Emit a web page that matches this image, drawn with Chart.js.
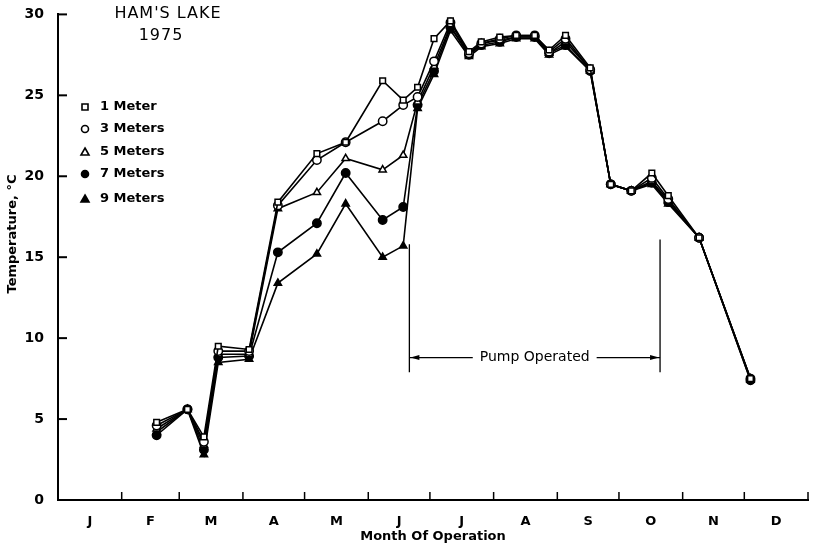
<!DOCTYPE html>
<html>
<head>
<meta charset="utf-8">
<script src="https://cdn.jsdelivr.net/npm/chart.js@4/dist/chart.umd.min.js"></script>
<style>
  html, body { margin: 0; padding: 0; background: #fff; }
</style>
</head>
<body>
<canvas id="myChart" width="814" height="544"></canvas>
<script>
// sampling dates as day of year, 1975
const sampleDays = [48, 63, 71, 78, 93, 107, 126, 140, 158, 168, 175, 183, 191, 200, 206, 215, 223, 232, 239, 247, 259, 269, 279, 289, 297, 312, 337];
const temp1m = [4.8, 5.6, 3.9, 9.5, 9.3, 18.4, 21.4, 22.1, 25.9, 24.7, 25.5, 28.5, 29.6, 27.7, 28.3, 28.6, 28.7, 28.7, 27.8, 28.7, 26.7, 19.5, 19.1, 20.2, 18.8, 16.2, 7.5];
const temp3m = [4.6, 5.6, 3.6, 9.2, 9.2, 18.2, 21.0, 22.1, 23.4, 24.4, 24.9, 27.1, 29.5, 27.6, 28.2, 28.5, 28.7, 28.7, 27.7, 28.5, 26.6, 19.5, 19.1, 19.9, 18.6, 16.2, 7.5];
const temp5m = [4.4, 5.6, 3.4, 9.0, 9.0, 18.0, 19.0, 21.1, 20.4, 21.3, 24.6, 26.8, 29.3, 27.5, 28.2, 28.4, 28.6, 28.6, 27.6, 28.3, 26.6, 19.5, 19.1, 19.7, 18.5, 16.2, 7.5];
const temp7m = [4.0, 5.6, 3.1, 8.8, 8.9, 15.3, 17.1, 20.2, 17.3, 18.1, 24.4, 26.5, 29.2, 27.5, 28.1, 28.3, 28.6, 28.6, 27.6, 28.1, 26.5, 19.5, 19.1, 19.6, 18.4, 16.2, 7.4];
const temp9m = [4.2, 5.6, 2.8, 8.5, 8.7, 13.4, 15.2, 18.3, 15.0, 15.7, 24.2, 26.3, 29.0, 27.4, 28.0, 28.2, 28.5, 28.5, 27.5, 28.0, 26.5, 19.5, 19.1, 19.5, 18.3, 16.2, 7.4];

const months = ['J', 'F', 'M', 'A', 'M', 'J', 'J', 'A', 'S', 'O', 'N', 'D'];
const monthEnds = [31, 59, 90, 120, 151, 181, 212, 243, 273, 304, 334, 365];
const monthMids = [15.5, 45, 74.5, 105, 135.5, 166, 196.5, 227.5, 258, 288.5, 319, 349.5];
const yTicks = [0, 5, 10, 15, 20, 25, 30];

const seriesNames = ['1 Meter', '3 Meters', '5 Meters', '7 Meters', '9 Meters'];
const seriesTemps = [temp1m, temp3m, temp5m, temp7m, temp9m];

// pump period (day of year) and where the bracket sits (deg C)
const pumpStart = 171, pumpEnd = 293;
const pumpTop1 = 15.8, pumpTop2 = 16.1, pumpBottom = 7.9, pumpArrowY = 8.8;

const FONT = '"DejaVu Sans", sans-serif';
const markers = [
  { style: 'rect', fill: '#fff' },
  { style: 'circle', fill: '#fff' },
  { style: 'triangle', fill: '#fff' },
  { style: 'circle', fill: '#000' },
  { style: 'triangle', fill: '#000' }
];

function toPoints(vals) {
  return vals.map((v, i) => ({ x: sampleDays[i], y: v }));
}

const datasets = seriesNames.map((name, i) => ({
  label: name,
  data: toPoints(seriesTemps[i]),
  borderColor: '#000',
  borderWidth: 1.6,
  backgroundColor: markers[i].fill,
  pointStyle: markers[i].style,
  pointRadius: markers[i].style == 'rect' ? 4 : 4.2,
  pointBorderWidth: 1.5,
  pointBorderColor: '#000',
  pointBackgroundColor: markers[i].fill,
  tension: 0,
  fill: false
}));

function drawMarker(ctx, style, fill, x, y) {
  ctx.save();
  ctx.fillStyle = fill;
  ctx.strokeStyle = '#000';
  ctx.lineWidth = 1.6;
  ctx.beginPath();
  if (style == 'rect') {
    ctx.rect(x - 3, y - 3, 6, 6);
  } else if (style == 'circle') {
    ctx.arc(x, y, 3.5, 0, Math.PI * 2);
  } else {
    ctx.moveTo(x, y - 4);
    ctx.lineTo(x + 4, y + 3);
    ctx.lineTo(x - 4, y + 3);
    ctx.closePath();
  }
  ctx.fill();
  ctx.stroke();
  ctx.restore();
}

const extras = {
  id: 'extras',
  afterDraw(chart) {
    const ctx = chart.ctx;
    const xs = chart.scales.x, ys = chart.scales.y;
    const area = chart.chartArea;
    ctx.save();
    ctx.strokeStyle = '#000';
    ctx.fillStyle = '#000';

    // inward tick marks
    ctx.lineWidth = 1.5;
    monthEnds.forEach(d => {
      const px = xs.getPixelForValue(d);
      ctx.beginPath();
      ctx.moveTo(px, area.bottom);
      ctx.lineTo(px, area.bottom - 8);
      ctx.stroke();
    });
    ctx.lineWidth = 2;
    yTicks.forEach(t => {
      const py = ys.getPixelForValue(t);
      ctx.beginPath();
      ctx.moveTo(area.left, py);
      ctx.lineTo(area.left + 9, py);
      ctx.stroke();
    });

    // y axis title
    ctx.save();
    ctx.translate(13, 234);
    ctx.rotate(-Math.PI / 2);
    ctx.font = 'bold 13px ' + FONT;
    ctx.textAlign = 'center';
    ctx.textBaseline = 'middle';
    ctx.fillText('Temperature, \u00b0C', 0, 0);
    ctx.restore();

    // title
    ctx.font = '16px ' + FONT;
    ctx.letterSpacing = '1px';
    ctx.textAlign = 'center';
    ctx.textBaseline = 'middle';
    ctx.fillText("HAM'S LAKE", 168, 14);
    ctx.fillText('1975', 161, 36);
    ctx.letterSpacing = '0px';

    // legend
    ctx.font = 'bold 13px ' + FONT;
    ctx.textAlign = 'left';
    const rowY = [107, 129, 152, 174, 199];
    seriesNames.forEach((name, i) => {
      drawMarker(ctx, markers[i].style, markers[i].fill, 85, rowY[i]);
      ctx.fillStyle = '#000';
      ctx.fillText(name, 100, rowY[i]);
    });

    // pump bracket
    const x1 = xs.getPixelForValue(pumpStart), x2 = xs.getPixelForValue(pumpEnd);
    const yb = ys.getPixelForValue(pumpBottom), ya = ys.getPixelForValue(pumpArrowY);
    ctx.lineWidth = 1.3;
    ctx.beginPath();
    ctx.moveTo(x1, ys.getPixelForValue(pumpTop1));
    ctx.lineTo(x1, yb);
    ctx.moveTo(x2, ys.getPixelForValue(pumpTop2));
    ctx.lineTo(x2, yb);
    ctx.stroke();
    ctx.font = '14px ' + FONT;
    ctx.textAlign = 'center';
    const label = 'Pump Operated';
    const mid = (x1 + x2) / 2;
    const half = ctx.measureText(label).width / 2 + 7;
    ctx.fillText(label, mid, ya);
    ctx.beginPath();
    ctx.moveTo(x1, ya);
    ctx.lineTo(mid - half, ya);
    ctx.moveTo(mid + half, ya);
    ctx.lineTo(x2, ya);
    ctx.stroke();
    // arrow heads
    ctx.beginPath();
    ctx.moveTo(x1 + 1, ya);
    ctx.lineTo(x1 + 10, ya - 2.5);
    ctx.lineTo(x1 + 10, ya + 2.5);
    ctx.closePath();
    ctx.moveTo(x2 - 1, ya);
    ctx.lineTo(x2 - 10, ya - 2.5);
    ctx.lineTo(x2 - 10, ya + 2.5);
    ctx.closePath();
    ctx.fill();
    ctx.restore();
  }
};

new Chart('myChart', {
  type: 'line',
  data: { datasets: datasets },
  options: {
    responsive: false,
    animation: false,
    layout: { padding: { top: 13, right: 6, left: 0, bottom: 0 } },
    plugins: { legend: { display: false }, tooltip: { enabled: false } },
    scales: {
      x: {
        type: 'linear',
        min: 0,
        max: 365,
        afterBuildTicks: axis => { axis.ticks = monthMids.map(v => ({ value: v })); },
        afterFit: axis => { axis.height = 44; },
        grid: { display: false },
        border: { display: true, color: '#000', width: 2 },
        ticks: {
          color: '#000',
          padding: 6,
          maxRotation: 0,
          autoSkip: false,
          font: { family: FONT, size: 13, weight: 'bold' },
          callback: (v, i) => months[i]
        },
        title: {
          display: true,
          text: 'Month Of Operation',
          color: '#000',
          padding: { top: 0, bottom: 0 },
          font: { family: FONT, size: 13, weight: 'bold' }
        }
      },
      y: {
        min: 0,
        max: 30,
        afterBuildTicks: axis => { axis.ticks = yTicks.map(v => ({ value: v })); },
        afterFit: axis => { axis.width = 58; },
        grid: { display: false },
        border: { display: true, color: '#000', width: 2 },
        ticks: {
          color: '#000',
          padding: 6,
          font: { family: FONT, size: 14, weight: 'bold' }
        }
      }
    }
  },
  plugins: [extras]
});
</script>
</body>
</html>
